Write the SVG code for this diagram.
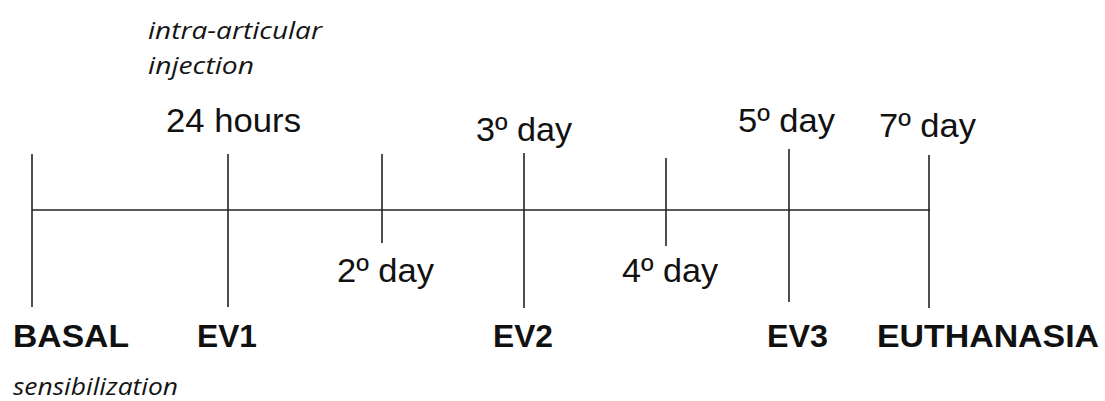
<svg xmlns="http://www.w3.org/2000/svg" width="1105" height="401" viewBox="0 0 1105 401">
<style>
.l{stroke:#222;stroke-width:1.6;fill:none}
.t{font-family:"Liberation Sans",Arial,sans-serif;font-size:33px;fill:#111}
.b{font-family:"Liberation Sans",Arial,sans-serif;font-size:31px;font-weight:bold;fill:#111}
.i{font-family:"Open Sans",sans-serif;font-size:24px;font-style:italic;fill:#151515}
</style>
<rect width="1105" height="401" fill="#fff"/>
<g id="connectors">
<line class="l" x1="32" y1="210" x2="930" y2="210"/>
<line class="l" x1="32" y1="154" x2="32" y2="307"/>
<line class="l" x1="228" y1="154" x2="228" y2="307"/>
<line class="l" x1="382" y1="154" x2="382" y2="243"/>
<line class="l" x1="524" y1="153" x2="524" y2="308"/>
<line class="l" x1="666" y1="158" x2="666" y2="246"/>
<line class="l" x1="789" y1="149" x2="789" y2="302"/>
<line class="l" x1="929" y1="155" x2="929" y2="308"/>
</g>
<g id="basal">
<text class="b" x="13" y="347" textLength="116" lengthAdjust="spacingAndGlyphs">BASAL</text>
<text class="i" x="13" y="395" textLength="165" lengthAdjust="spacingAndGlyphs">sensibilization</text>
</g>
<g id="ev1">
<text class="i" x="148" y="39" textLength="174" lengthAdjust="spacingAndGlyphs">intra-articular</text>
<text class="i" x="148" y="74" textLength="106" lengthAdjust="spacingAndGlyphs">injection</text>
<text class="t" x="166" y="132" textLength="135" lengthAdjust="spacingAndGlyphs">24 hours</text>
<text class="b" x="197" y="347" textLength="60" lengthAdjust="spacingAndGlyphs">EV1</text>
</g>
<g id="day2">
<text class="t" x="337" y="282" textLength="97" lengthAdjust="spacingAndGlyphs">2º day</text>
</g>
<g id="ev2">
<text class="t" x="476" y="141" textLength="96" lengthAdjust="spacingAndGlyphs">3º day</text>
<text class="b" x="493" y="347" textLength="60" lengthAdjust="spacingAndGlyphs">EV2</text>
</g>
<g id="day4">
<text class="t" x="622" y="282" textLength="96" lengthAdjust="spacingAndGlyphs">4º day</text>
</g>
<g id="ev3">
<text class="t" x="738" y="132" textLength="97" lengthAdjust="spacingAndGlyphs">5º day</text>
<text class="b" x="767" y="347" textLength="61" lengthAdjust="spacingAndGlyphs">EV3</text>
</g>
<g id="euthanasia">
<text class="t" x="879" y="137" textLength="97" lengthAdjust="spacingAndGlyphs">7º day</text>
<text class="b" x="877" y="347" textLength="222" lengthAdjust="spacingAndGlyphs">EUTHANASIA</text>
</g>
</svg>
